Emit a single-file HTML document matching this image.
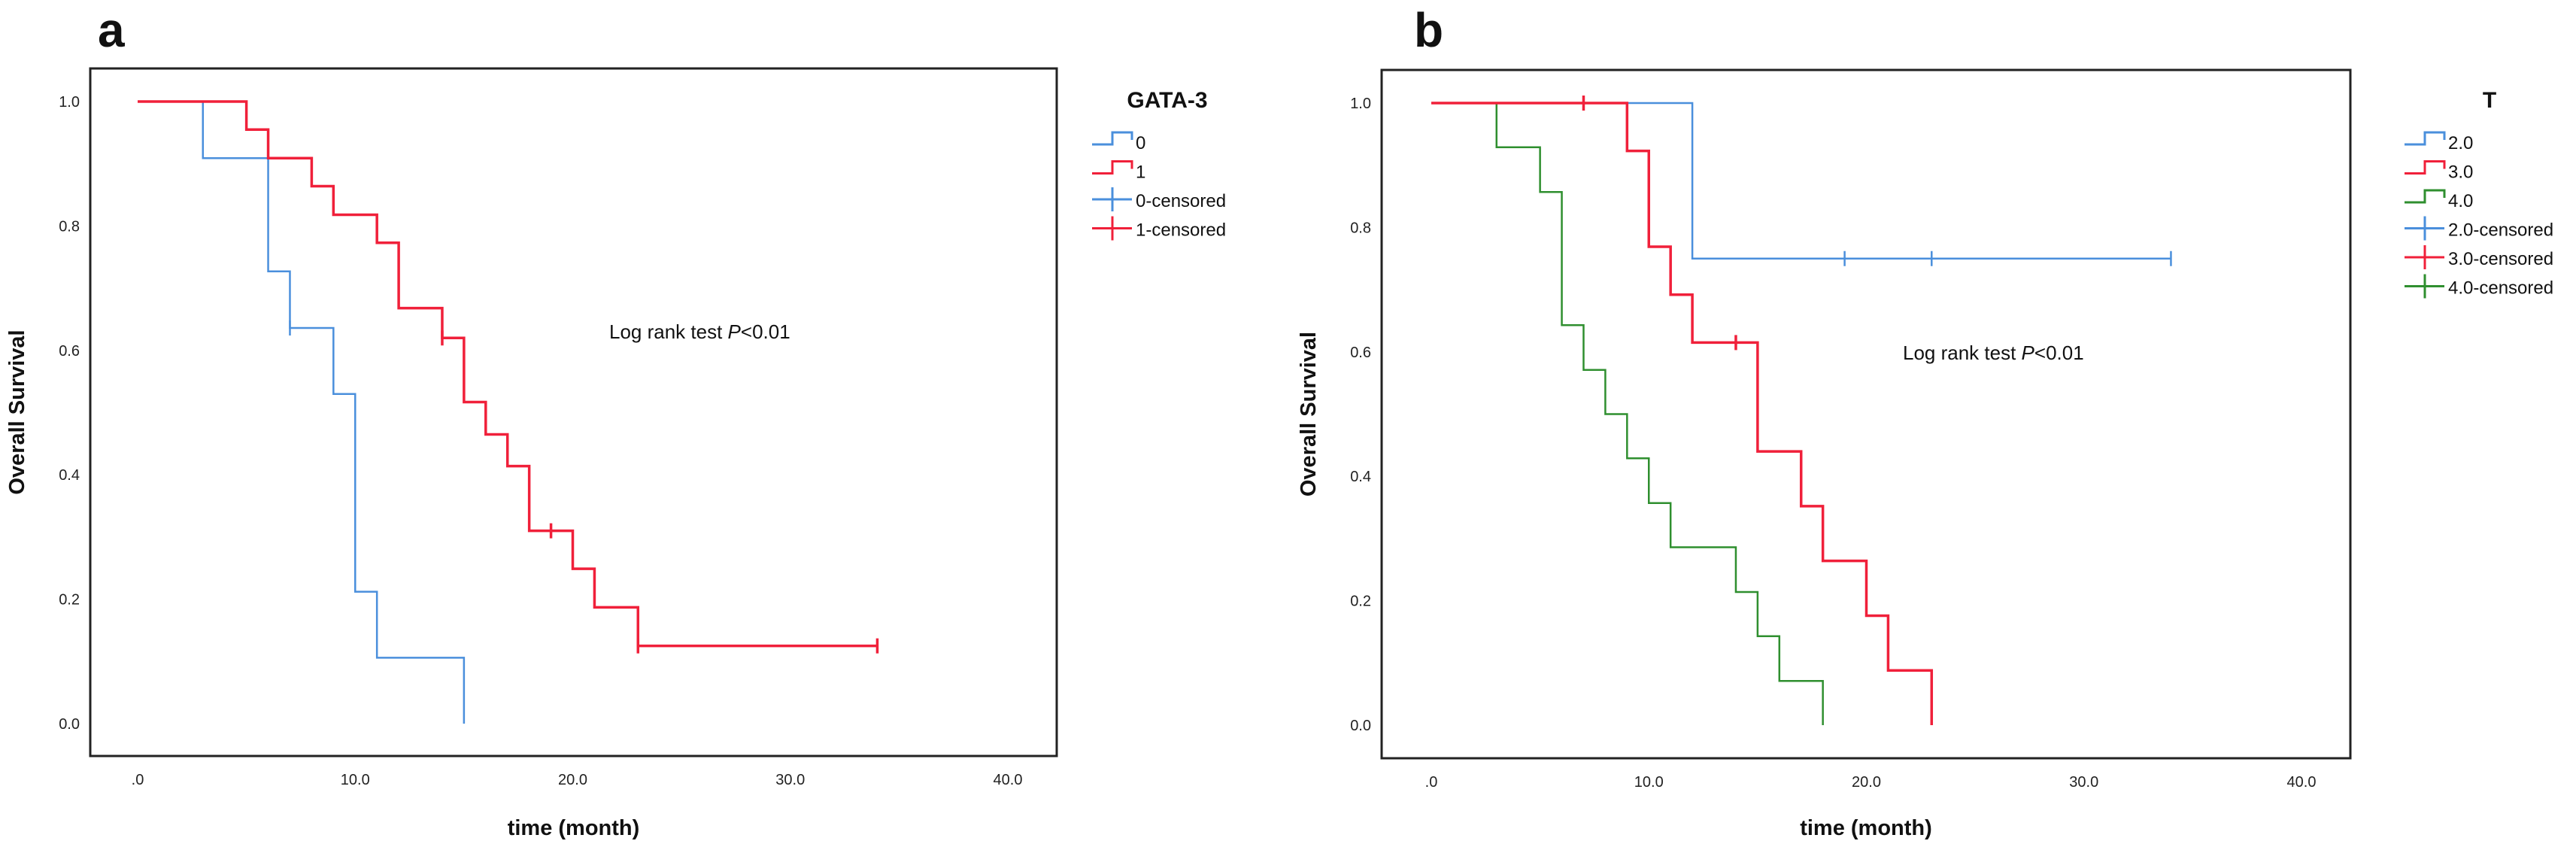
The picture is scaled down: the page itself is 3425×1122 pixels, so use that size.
<!DOCTYPE html>
<html><head><meta charset="utf-8">
<style>
html,body{margin:0;padding:0;background:#fff;}
svg{display:block;font-family:"Liberation Sans",Arial,sans-serif;}
</style></head>
<body>
<svg id="fig" width="3425" height="1122" viewBox="0 0 3425 1122" xmlns="http://www.w3.org/2000/svg"></svg>
<script>
// Panel a data (GATA-3)
const aTicksX = [0, 10, 20, 30, 40];
const aTickLabelsX = [".0", "10.0", "20.0", "30.0", "40.0"];
const aTicksY = [0, 0.2, 0.4, 0.6, 0.8, 1.0];
const aTickLabelsY = ["0.0", "0.2", "0.4", "0.6", "0.8", "1.0"];
const a0Times = [0, 3, 6, 7, 9, 10, 11, 15];
const a0Surv = [1.0, 0.909, 0.727, 0.636, 0.530, 0.212, 0.106, 0.0];
const a0CensorT = [7];
const a0CensorS = [0.636];
const a1Times = [0, 5, 6, 8, 9, 11, 12, 14, 15, 16, 17, 18, 20, 21, 23, 34];
const a1Surv = [1.0, 0.955, 0.909, 0.864, 0.818, 0.773, 0.668, 0.620, 0.517, 0.465, 0.414, 0.310, 0.249, 0.187, 0.125, 0.125];
const a1CensorT = [14, 19, 23, 34];
const a1CensorS = [0.620, 0.310, 0.125, 0.125];
// Panel b data (T stage)
const b2Times = [0, 12, 34];
const b2Surv = [1.0, 0.75, 0.75];
const b2CensorT = [19, 23, 34];
const b2CensorS = [0.75, 0.75, 0.75];
const b3Times = [0, 9, 10, 11, 12, 15, 17, 18, 20, 21, 23];
const b3Surv = [1.0, 0.923, 0.769, 0.692, 0.615, 0.440, 0.352, 0.264, 0.176, 0.088, 0.0];
const b3CensorT = [7, 14];
const b3CensorS = [1.0, 0.615];
const b4Times = [0, 3, 5, 6, 7, 8, 9, 10, 11, 14, 15, 16, 18];
const b4Surv = [1.0, 0.929, 0.857, 0.643, 0.571, 0.5, 0.429, 0.357, 0.286, 0.214, 0.143, 0.071, 0.0];

const NS = "http://www.w3.org/2000/svg";
const svg = document.getElementById("fig");
function mk(tag, attrs, parent, txt) {
  const e = document.createElementNS(NS, tag);
  for (const k in attrs) e.setAttribute(k, attrs[k]);
  if (txt !== undefined) e.textContent = txt;
  (parent || svg).appendChild(e);
  return e;
}
const BLUE = "#4a8fdc", RED = "#f0203a", GREEN = "#2f8f2f";

function panel(P) {
  const g = mk("g", {});
  
  
  const xs = t => P.x0 + (t / 40) * (P.x40 - P.x0);
  const ys = s => P.y0 + s * (P.y1 - P.y0);
  const letter = mk("text", {x: P.letterX, y: 62, "font-size": 64, "font-weight": "bold", fill: "#111"}, g, P.letter);
  
  
  const fr = mk("rect", {x: P.fl, y: P.ft, width: P.fr - P.fl, height: P.fb - P.ft, fill: "none", stroke: "#222", "stroke-width": 3}, g);
  
  
  aTicksY.forEach((v, i) => {
    const t = mk("text", {x: P.fl - 14, y: ys(v) + 7, "font-size": 20, "text-anchor": "end", fill: "#222"}, g, aTickLabelsY[i]);
    
    
  });
  aTicksX.forEach((v, i) => {
    const t = mk("text", {x: xs(v), y: P.fb + 38, "font-size": 20, "text-anchor": "middle", fill: "#222"}, g, aTickLabelsX[i]);
    
    
  });
  const xt = mk("text", {x: (P.fl + P.fr) / 2, y: 1110, "font-size": 29, "font-weight": "bold", "text-anchor": "middle", fill: "#111"}, g, "time (month)");
  
  
  const yt = mk("text", {x: 0, y: 0, "font-size": 29, "font-weight": "bold", "text-anchor": "middle", fill: "#111", transform: `translate(${P.fl - 88},${(P.ft + P.fb) / 2}) rotate(-90)`}, g, "Overall Survival");
  
  
  const lr = mk("text", {x: P.lrX, y: P.lrY, "font-size": 26, fill: "#111"}, g);
  
  
  mk("tspan", {}, lr, "Log rank test ");
  mk("tspan", {"font-style": "italic"}, lr, "P");
  mk("tspan", {}, lr, "<0.01");
  P.series.forEach(S => {
    let d = `M${xs(S.t[0])},${ys(S.s[0])}`;
    for (let i = 1; i < S.t.length; i++) {
      d += ` H${xs(S.t[i])} V${ys(S.s[i])}`;
    }
    const p = mk("path", {d: d, fill: "none", stroke: S.c, "stroke-width": S.w}, g);
    
    
    (S.ct || []).forEach((t, i) => {
      const c = mk("line", {x1: xs(t), x2: xs(t), y1: ys(S.cs[i]) - 10, y2: ys(S.cs[i]) + 10, stroke: S.c, "stroke-width": S.w}, g);
      
      
    });
  });
  const lt = mk("text", {x: P.legTitleX, y: 143, "font-size": 30, "font-weight": "bold", "text-anchor": "middle", fill: "#111"}, g, P.legTitle);
  
  
  P.legend.forEach((L, i) => {
    const y = 198 + i * 38.5;
    const lg = mk("g", {}, g);
    
    
    const ix = P.legX;
    if (L.step) {
      mk("path", {d: `M${ix},${y - 6} H${ix + 27} V${y - 22} H${ix + 53} V${y - 12}`, fill: "none", stroke: L.c, "stroke-width": 3}, lg);
    } else {
      mk("line", {x1: ix, x2: ix + 53, y1: y - 10, y2: y - 10, stroke: L.c, "stroke-width": 3}, lg);
      mk("line", {x1: ix + 27, x2: ix + 27, y1: y - 26, y2: y + 6, stroke: L.c, "stroke-width": 3}, lg);
    }
    mk("text", {x: ix + 58, y: y, "font-size": 24, fill: "#111"}, lg, L.label);
  });
}

panel({name: "panel-a", letter: "a", letterX: 130, fl: 120, fr: 1405, ft: 91, fb: 1005,
  x0: 183, x40: 1340, y0: 962, y1: 135, lrX: 810, lrY: 450,
  legTitle: "GATA-3", legTitleX: 1552, legX: 1452,
  series: [
    {n: "gata3-0", t: a0Times, s: a0Surv, c: BLUE, w: 2.5, ct: a0CensorT, cs: a0CensorS},
    {n: "gata3-1", t: a1Times, s: a1Surv, c: RED, w: 3.5, ct: a1CensorT, cs: a1CensorS}
  ],
  legend: [
    {label: "0", c: BLUE, step: true}, {label: "1", c: RED, step: true},
    {label: "0-censored", c: BLUE}, {label: "1-censored", c: RED}
  ]});

panel({name: "panel-b", letter: "b", letterX: 1880, fl: 1837, fr: 3125, ft: 93, fb: 1008,
  x0: 1903, x40: 3060, y0: 964, y1: 137, lrX: 2530, lrY: 478,
  legTitle: "T", legTitleX: 3310, legX: 3197,
  series: [
    {n: "t2", t: b2Times, s: b2Surv, c: BLUE, w: 2.5, ct: b2CensorT, cs: b2CensorS},
    {n: "t4", t: b4Times, s: b4Surv, c: GREEN, w: 2.5},
    {n: "t3", t: b3Times, s: b3Surv, c: RED, w: 3.5, ct: b3CensorT, cs: b3CensorS}
  ],
  legend: [
    {label: "2.0", c: BLUE, step: true}, {label: "3.0", c: RED, step: true}, {label: "4.0", c: GREEN, step: true},
    {label: "2.0-censored", c: BLUE}, {label: "3.0-censored", c: RED}, {label: "4.0-censored", c: GREEN}
  ]});
</script>
</body></html>
